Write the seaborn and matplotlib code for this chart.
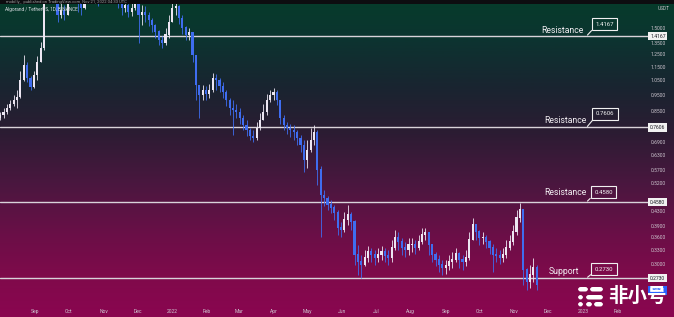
import numpy as np
import pandas as pd
import matplotlib
matplotlib.use("Agg")
import matplotlib.pyplot as plt
import matplotlib.transforms as mtransforms
from matplotlib.colors import LinearSegmentedColormap
from matplotlib.patches import FancyBboxPatch, Rectangle
from matplotlib.ticker import NullLocator
import seaborn as sns

sns.set_theme(style="white")
plt.rcParams['font.family'] = ['Roboto', 'DejaVu Sans']

# ---------------- data (3-day candles, ALGO/USDT) ----------------
start_date = "2021-08-01"
first_open = 0.811
close = [0.828, 0.845, 0.868, 0.892, 0.917, 0.935, 1.05, 1.16, 1.065, 1.001,
         1.087, 1.184, 1.305, 2.004, 2.296, 2.219, 1.872, 1.63, 1.69, 1.63,
         1.81, 1.937, 1.91, 1.775, 1.715, 1.872, 1.937, 2.004, 1.91, 1.85,
         1.91, 1.963, 2.04, 2.10, 1.963, 1.81, 1.715, 1.75, 1.665, 1.715,
         1.835, 1.63, 1.665, 1.63, 1.58, 1.53, 1.46, 1.38, 1.35, 1.43,
         1.56, 1.715, 1.738, 1.60, 1.50, 1.43, 1.45, 1.245, 1.015, 0.948,
         0.981, 0.955, 0.981, 1.065, 1.05, 1.008, 0.968, 0.917, 0.868, 0.856,
         0.845, 0.811, 0.773, 0.748, 0.717, 0.708, 0.758, 0.800, 0.845, 0.917,
         0.948, 0.968, 0.917, 0.811, 0.773, 0.758, 0.748, 0.737, 0.708, 0.675,
         0.610, 0.652, 0.698, 0.737, 0.570, 0.480, 0.470, 0.449, 0.440, 0.425,
         0.384, 0.379, 0.405, 0.419, 0.400, 0.319, 0.305, 0.298, 0.313, 0.327,
         0.319, 0.313, 0.319, 0.327, 0.317, 0.313, 0.335, 0.359, 0.349, 0.335,
         0.331, 0.342, 0.342, 0.335, 0.349, 0.366, 0.371, 0.342, 0.319, 0.309,
         0.298, 0.292, 0.296, 0.305, 0.309, 0.322, 0.309, 0.305, 0.313, 0.354,
         0.392, 0.374, 0.359, 0.359, 0.349, 0.335, 0.319, 0.317, 0.313, 0.319,
         0.335, 0.349, 0.374, 0.411, 0.434, 0.288, 0.266, 0.279, 0.292, 0.261]
high = [0.845, 0.868, 0.892, 0.917, 0.948, 0.981, 1.12, 1.245, 1.184, 1.080,
        1.12, 1.236, 1.36, 2.375, 2.458, 2.375, 2.219, 1.872, 1.775, 1.75,
        1.91, 2.07, 2.004, 1.937, 1.81, 1.963, 2.07, 2.145, 2.04, 1.963,
        2.004, 2.07, 2.19, 2.219, 2.13, 1.99, 1.835, 1.85, 1.775, 1.81,
        1.937, 1.872, 1.75, 1.738, 1.665, 1.60, 1.54, 1.48, 1.42, 1.50,
        1.63, 1.775, 1.785, 1.75, 1.63, 1.52, 1.50, 1.46, 1.245, 1.015,
        1.015, 1.008, 1.022, 1.105, 1.094, 1.065, 1.036, 0.981, 0.929, 0.917,
        0.892, 0.868, 0.828, 0.800, 0.758, 0.748, 0.789, 0.839, 0.892, 0.955,
        0.981, 0.994, 0.981, 0.917, 0.828, 0.789, 0.778, 0.773, 0.748, 0.722,
        0.698, 0.698, 0.758, 0.773, 0.748, 0.585, 0.497, 0.477, 0.464, 0.449,
        0.434, 0.400, 0.428, 0.449, 0.428, 0.405, 0.342, 0.319, 0.331, 0.340,
        0.335, 0.331, 0.335, 0.340, 0.335, 0.331, 0.354, 0.379, 0.374, 0.359,
        0.349, 0.359, 0.359, 0.354, 0.366, 0.384, 0.384, 0.374, 0.342, 0.327,
        0.319, 0.309, 0.309, 0.319, 0.327, 0.335, 0.327, 0.319, 0.331, 0.374,
        0.411, 0.395, 0.379, 0.374, 0.366, 0.354, 0.344, 0.335, 0.331, 0.335,
        0.354, 0.366, 0.392, 0.434, 0.455, 0.434, 0.292, 0.298, 0.313, 0.298]
low = [0.800, 0.811, 0.834, 0.856, 0.880, 0.868, 0.929, 1.04, 1.036, 0.981,
       0.994, 1.05, 1.184, 1.29, 2.004, 2.004, 1.81, 1.56, 1.60, 1.58,
       1.63, 1.785, 1.785, 1.665, 1.63, 1.70, 1.81, 1.872, 1.785, 1.738,
       1.785, 1.85, 1.91, 1.963, 1.835, 1.715, 1.63, 1.665, 1.61, 1.62,
       1.69, 1.35, 1.53, 1.56, 1.52, 1.46, 1.40, 1.33, 1.31, 1.33,
       1.40, 1.56, 1.64, 1.54, 1.44, 1.38, 1.38, 1.184, 0.917, 0.811,
       0.917, 0.917, 0.929, 0.968, 0.981, 0.968, 0.929, 0.880, 0.828, 0.722,
       0.811, 0.778, 0.748, 0.717, 0.698, 0.689, 0.698, 0.748, 0.800, 0.828,
       0.905, 0.917, 0.886, 0.778, 0.748, 0.727, 0.713, 0.698, 0.675, 0.643,
       0.562, 0.578, 0.643, 0.675, 0.514, 0.361, 0.446, 0.434, 0.425, 0.405,
       0.366, 0.361, 0.374, 0.392, 0.379, 0.298, 0.279, 0.273, 0.296, 0.305,
       0.305, 0.298, 0.305, 0.309, 0.305, 0.298, 0.305, 0.331, 0.331, 0.319,
       0.315, 0.319, 0.326, 0.322, 0.331, 0.344, 0.354, 0.319, 0.305, 0.296,
       0.284, 0.279, 0.281, 0.288, 0.292, 0.305, 0.292, 0.288, 0.296, 0.309,
       0.354, 0.354, 0.342, 0.344, 0.335, 0.322, 0.284, 0.305, 0.300, 0.305,
       0.313, 0.331, 0.342, 0.366, 0.400, 0.261, 0.252, 0.256, 0.266, 0.252]

levels = [1.4167, 0.7606, 0.4580, 0.2730]
level_names = ["Resistance", "Resistance", "Resistance", "Support"]
level_texts = ["1.4167", "0.7606", "0.4580", "0.2730"]
price_ticks = [1.50, 1.35, 1.25, 1.15, 1.05, 0.95, 0.85, 0.69, 0.63, 0.57,
               0.52, 0.43, 0.39, 0.36, 0.33, 0.30]
month_tick_dates = pd.date_range("2021-09-01", "2023-02-01", freq="MS")
month_tick_labels = ["Sep", "Oct", "Nov", "Dec", "2022", "Feb", "Mar", "Apr", "May",
                     "Jun", "Jul", "Aug", "Sep", "Oct", "Nov", "Dec", "2023", "Feb"]
last_price = 0.2510
pair_title = "Algorand / TetherUS, 1D, BINANCE"
header_text = "published on TradingView.com, Nov 21, 2022 04:33 UTC"
watermark = "非小号"

dates = pd.date_range(start_date, periods=len(close), freq="3D")
opens = [first_open] + close[:-1]
df = pd.DataFrame({"date": dates, "open": opens, "high": high, "low": low, "close": close})
df["up"] = df["close"] >= df["open"]

# ---------------- figure ----------------
W, H = 674, 317
fig = plt.figure(figsize=(W / 100, H / 100), dpi=100)

# gradient background
bg = fig.add_axes([0, 0, 1, 1], zorder=0)
cmap = LinearSegmentedColormap.from_list("bg", [
    (0.00, "#063c2b"), (0.12, "#0c3430"), (0.28, "#1a2430"), (0.42, "#2c1c33"),
    (0.58, "#4a173f"), (0.74, "#6a0f47"), (0.88, "#800a4b"), (1.00, "#8a0650")])
grad = np.linspace(0, 1, 400).reshape(-1, 1)
bg.imshow(grad, aspect="auto", cmap=cmap, extent=[0, 1, 0, 1], origin="upper")
bg.set_axis_off()

# main axes
ax_right_px, ax_top_px, ax_bot_px = 648, 4, 303
ax = fig.add_axes([0, (H - ax_bot_px) / H, ax_right_px / W, (ax_bot_px - ax_top_px) / H], zorder=1)
ax.patch.set_alpha(0)
ax.set_yscale("log")
ax.set_ylim(0.2304, 1.762)
x0 = pd.Timestamp("2021-07-31 21:00")
ax.set_xlim(x0, x0 + pd.Timedelta(days=576))

up_col, dn_col = "#ece6f2", "#3f6df0"
cols = np.where(df["up"], up_col, dn_col)
lo = np.minimum.reduce([df["low"], df["open"], df["close"]])
hi = np.maximum.reduce([df["high"], df["open"], df["close"]])
ax.vlines(df["date"], lo, hi, colors=cols, lw=0.6, zorder=3)
body_bot = np.minimum(df["open"], df["close"])
body_h = np.abs(df["close"] - df["open"]) + 0.002
ax.bar(df["date"], body_h, bottom=body_bot, width=1.9, color=cols, linewidth=0, zorder=4)

for s in ax.spines.values():
    s.set_visible(False)
ax.grid(False)

# y axis on the right
ax.yaxis.tick_right()
ax.yaxis.set_minor_locator(NullLocator())
ax.set_yticks(price_ticks)
ax.set_yticklabels([f"{v:.4f}" for v in price_ticks])
ax.tick_params(axis="y", length=0, pad=2.0, labelsize=3.6, labelcolor="#cdc6cf")
ax.set_xticks(month_tick_dates)
ax.set_xticklabels(month_tick_labels)
ax.tick_params(axis="x", length=0, pad=4.0, labelsize=3.6, labelcolor="#cdc6cf")

blend = mtransforms.blended_transform_factory(ax.transAxes, ax.transData)

# horizontal levels with callouts
name_offsets = [(-17, 4.3), (-15, 5.0), (-15, 6.5), (-16.5, 5.0)]
box_offsets = [(13.0, 8.6), (13.3, 9.7), (12.2, 7.2), (12.6, 6.5)]
anchor_x = 586.5 / ax_right_px
for lvl, nm, txt, no, bo in zip(levels, level_names, level_texts, name_offsets, box_offsets):
    ax.axhline(lvl, color="#d9d3da", lw=1.0, zorder=2)
    ax.annotate(nm, xy=(anchor_x, lvl), xycoords=blend, xytext=no, textcoords="offset points",
                ha="center", va="center", fontsize=6.2, color="#f2eef2", zorder=6)
    ax.annotate(txt, xy=(anchor_x, lvl), xycoords=blend, xytext=bo, textcoords="offset points",
                ha="center", va="center", fontsize=4.3, color="#f4f4f4", zorder=6,
                bbox=dict(boxstyle="square,pad=0.6", fc="none", ec="#f0f0f0", lw=0.8),
                arrowprops=dict(arrowstyle="-", color="#f0f0f0", lw=0.8, shrinkA=0, shrinkB=1,
                                relpos=(0.0, 0.0)))
    # price label on the axis
    ax.annotate(txt, xy=(1.0, lvl), xycoords=blend, xytext=(1.5, 0), textcoords="offset points",
                ha="left", va="center", fontsize=3.6, color="#1a1a22", zorder=6,
                bbox=dict(boxstyle="square,pad=0.35", fc="#f2f2f2", ec="none"))

# current price label (blue)
ax.annotate(f"{last_price:.4f}", xy=(1.0, last_price), xycoords=blend, xytext=(1.5, 0),
            textcoords="offset points", ha="left", va="center", fontsize=3.6, color="white",
            zorder=6, bbox=dict(boxstyle="square,pad=0.35", fc="#2962ff", ec="none"),
            annotation_clip=False)

# axis currency label
ax.text(1.0 + 10 / ax_right_px, (ax_bot_px - 9) / (ax_bot_px - ax_top_px), "USDT",
        transform=ax.transAxes, ha="left", va="center", fontsize=3.4, color="#cdc6cf")

# header band and titles
fig.patches.append(Rectangle((0, 1 - 4 / H), 1, 4 / H, transform=fig.transFigure,
                             facecolor="#0d0d10", edgecolor="none", zorder=2))
fig.text(6 / W, 1 - 1.5 / H, "mobilly_  " + header_text, fontsize=3.0, color="#9a9a9a",
         va="center", ha="left", zorder=3)
fig.text(5 / W, 1 - 10 / H, pair_title, fontsize=3.4, color="#d9dde2", va="center",
         ha="left", zorder=3)

# watermark logo
def px_box(x, y, w, h):
    return FancyBboxPatch((x / W, 1 - (y + h) / H), w / W, h / H,
                          boxstyle="round,pad=0,rounding_size=0.004",
                          transform=fig.transFigure, facecolor="white", edgecolor="none",
                          zorder=8, mutation_aspect=W / H)
for (bx, by, bw, bh) in [(578, 287, 10, 4.5), (590, 287, 13, 4.5),
                         (578, 295, 5, 4.5), (586, 295, 17, 4.5),
                         (578, 302, 5, 4.5), (586, 302, 6, 4.5), (594, 302, 9, 4.5)]:
    fig.patches.append(px_box(bx, by, bw, bh))
fig.text(637 / W, 1 - 296 / H, watermark, fontsize=14, fontweight="bold", color="white",
         family=["Noto Sans CJK SC", "DejaVu Sans"], ha="center", va="center", zorder=9)

fig.savefig("out.png", dpi=100)
